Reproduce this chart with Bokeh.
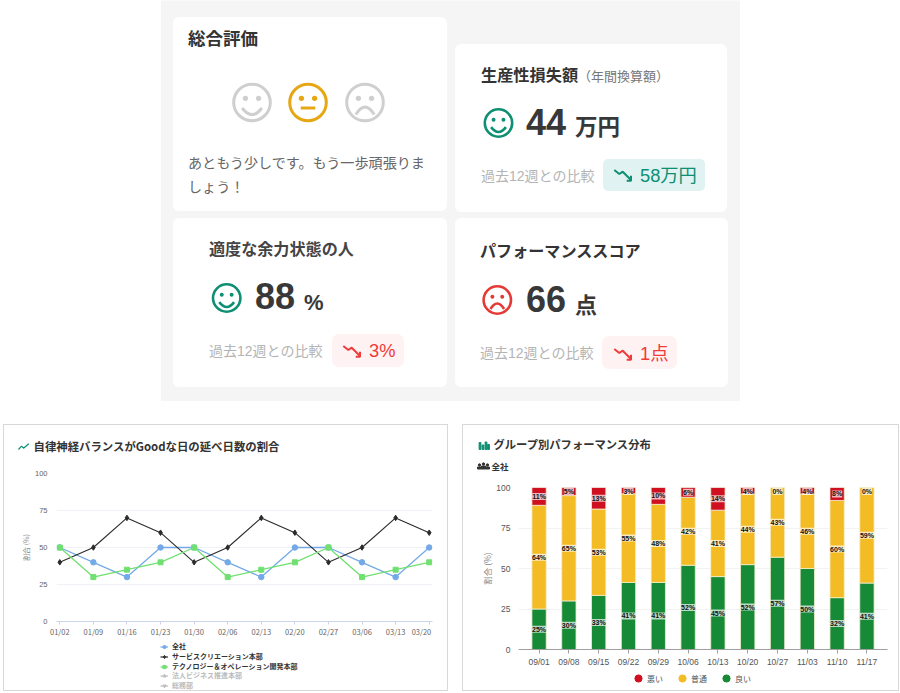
from bokeh.plotting import figure
from bokeh.models import (Range1d, FactorRange, FixedTicker, Legend, LegendItem, ColumnDataSource, Row, Column)
from bokeh.core.properties import value
from bokeh.embed import file_html
from bokeh.resources import INLINE

JP = "Noto Sans CJK JP"
MIX = "Liberation Sans, Noto Sans CJK JP"
NAN = float("nan")

# ---------- data: line chart
line_dates = ["01/02", "01/09", "01/16", "01/23", "01/30", "02/06", "02/13", "02/20", "02/27", "03/06", "03/13", "03/20"]
zensha = [50, 40, 30, 50, 50, 40, 30, 50, 50, 40, 30, 50]
service = [40, 50, 70, 60, 40, 50, 70, 60, 40, 50, 70, 60]
techno = [50, 30, 35, 40, 50, 30, 35, 40, 50, 30, 35, 40]
line_names = ["全社", "サービスクリエーション本部", "テクノロジー＆オペレーション開発本部"]
hidden_names = ["法人ビジネス推進本部", "総務部"]

# ---------- data: stacked bars
bar_dates = ["09/01", "09/08", "09/15", "09/22", "09/29", "10/06", "10/13", "10/20", "10/27", "11/03", "11/10", "11/17"]
good = [25, 30, 33.4, 41.4, 41.4, 52, 45, 52.4, 57, 50, 32, 41]
normal = [64, 65, 53.3, 54.8, 48.2, 42, 41, 43.6, 43, 46, 60, 59]
bad = [11, 5, 13.3, 3.8, 10.4, 6, 14, 4, 0, 4, 8, 0]
good_labels = ["25%", "30%", "33%", "41%", "41%", "52%", "45%", "52%", "57%", "50%", "32%", "41%"]
normal_labels = ["64%", "65%", "53%", "55%", "48%", "42%", "41%", "44%", "43%", "46%", "60%", "59%"]
bad_labels = ["11%", "5%", "13%", "3%", "10%", "6%", "14%", "4%", "0%", "4%", "8%", "0%"]
bar_names = ["悪い", "普通", "良い"]

TEAL, AMBER, RED = "#0E8F73", "#E5A714", "#E53935"
DARK = "#383838"


def canvas(x0, x1, y0, y1, shift=0.0):
    """A figure whose units are the picture's pixels."""
    f = figure(width=x1 - x0, height=y1 - y0, x_range=Range1d(x0 + shift, x1 + shift),
               y_range=Range1d(y1 + shift, y0 + shift), toolbar_location=None,
               output_backend="svg", min_border=0, outline_line_color=None, border_fill_color=None,
               background_fill_color=None, frame_align=False)
    f.axis.visible = False
    f.grid.visible = False
    return f


top = canvas(0, 900, 0, 424, 0.5)


def txt(x, y, s, size, color, font=JP, style="normal", align="left", fig=top):
    fig.text(x=[x], y=[y - 1 if font == JP else y], text=[s], text_font=value(font), text_font_size=f"{size}px",
             text_color=color, text_font_style=style, text_align=align, text_baseline="middle")


def card(l, r, t, b, color="white", radius=6):
    top.quad(left=[l], right=[r], top=[t], bottom=[b], fill_color=color, line_color=None, border_radius=radius)


def face(cx, cy, r, kind, color, lw):
    top.circle(x=[cx], y=[cy], radius=r, fill_color="white", line_color=color, line_width=lw)
    e = r * 0.36
    top.circle(x=[cx - e, cx + e], y=[cy - r * 0.23] * 2, radius=r * 0.145, fill_color=color, line_color=None)
    if kind == "smile":
        w = r * 0.54
        top.quadratic(x0=[cx - w], y0=[cy + r * .3], x1=[cx + w], y1=[cy + r * .3], cx=[cx], cy=[cy + r * 1.02],
                      line_color=color, line_width=lw)
    elif kind == "frown":
        w = r * 0.5
        top.quadratic(x0=[cx - w], y0=[cy + r * .66], x1=[cx + w], y1=[cy + r * .66], cx=[cx], cy=[cy - r * .16],
                      line_color=color, line_width=lw)
    else:
        top.line(x=[cx - r * .4, cx + r * .4], y=[cy + r * .3] * 2, line_color=color, line_width=lw)


def arrow(x, y, color):
    top.line(x=[x, x + 5, x + 8.4, x + 16.7], y=[y, y + 4, y + 1.7, y + 10], line_color=color, line_width=2)
    top.line(x=[x + 16.7, x + 16.7, x + 12.4], y=[y + 5.7, y + 10.7, y + 10.7], line_color=color, line_width=2)


card(161, 740, -5, 401, "#F5F5F5", 0)
card(173, 447, 17, 211)
card(455, 727, 44, 212)
card(173, 447, 218, 387)
card(455, 728, 218, 387)

# overall card
txt(188, 38, "総合評価", 17.5, "#333333", style="bold")
face(252, 102.5, 18.3, "smile", "#CFCFCF", 3)
face(308, 102.5, 18.3, "flat", AMBER, 3)
face(365, 102.5, 18.3, "frown", "#CFCFCF", 3)
txt(188, 163, "あともう少しです。もう一歩頑張りま", 14.1, "#666666")
txt(188, 187, "しょう！", 14.1, "#666666")

# productivity card
txt(481, 75, "生産性損失額", 16.2, "#333333", style="bold")
txt(578, 76, "（年間換算額）", 13, "#777777")
face(498.5, 123, 13.7, "smile", TEAL, 2.6)
txt(526, 122, "44", 36, DARK, MIX, "bold")
txt(575, 126, "万円", 22.5, DARK, style="bold")
txt(481, 175.5, "過去12週との比較", 14, "#B4B4B4", MIX)
card(603, 705, 159, 191, "#E0F2F1", 5)
arrow(614.3, 170, TEAL)
txt(640, 175, "58万円", 18.3, TEAL, MIX)

# capacity card
txt(209, 249, "適度な余力状態の人", 16.1, "#444444", style="bold")
face(226.7, 298, 13.7, "smile", TEAL, 2.6)
txt(255, 296, "88", 36, DARK, MIX, "bold")
txt(304, 302, "%", 22, DARK, MIX, "bold")
txt(209, 351, "過去12週との比較", 14, "#B4B4B4", MIX)
card(332, 404, 334, 367, "#FFF2F2", 7)
arrow(343.3, 346, "#EF3B3B")
txt(369, 350, "3%", 18.3, "#EF3B3B", MIX)

# performance card
txt(480, 251, "パフォーマンススコア", 16.1, "#333333", style="bold")
face(497.3, 300, 13.7, "frown", RED, 2.6)
txt(526, 299, "66", 36, DARK, MIX, "bold")
txt(575, 304, "点", 22, DARK, style="bold")
txt(480, 353, "過去12週との比較", 14, "#B4B4B4", MIX)
card(602, 677, 336, 369, "#FFF2F2", 7)
arrow(614.3, 349, "#EF3B3B")
txt(640, 353, "1点", 18.3, "#EF3B3B", MIX)

BOX = "1px solid #D8D8D8"

# ---------- line chart
head_l = canvas(4, 449, 425, 467)
txt(34, 447, "自律神経バランスがGoodな日の延べ日数の割合", 11.4, "#333333", style="bold", fig=head_l)
head_l.line(x=[19, 22, 24, 29.3], y=[450, 446.7, 448.7, 444.3], line_color=TEAL, line_width=1.2)

left = figure(width=445, height=174, x_range=Range1d(-0.098, 11.098), y_range=Range1d(0, 100), toolbar_location=None,
              output_backend="svg", min_border_left=53, min_border_right=16, min_border_top=7, min_border_bottom=19,
              outline_line_color=None, border_fill_color=None, frame_align=False)
xs = list(range(len(line_dates)))
BLUE, BLACK, LIME = "#74A9E8", "#2B2B2B", "#70E070"
left.line(xs, zensha, line_color=BLUE, line_width=1.3)
left.scatter(xs, zensha, marker="circle", size=5.5, color=BLUE)
left.line(xs, service, line_color=BLACK, line_width=1.1)
left.scatter(xs, service, marker="diamond", size=5.5, color=BLACK)
left.line(xs, techno, line_color=LIME, line_width=1.3)
left.scatter(xs, techno, marker="square", size=5, color=LIME)

# the last tick label of the reference sits left of its tick, so labels are major ticks and marks are minor ones
label_ticks = xs[:-1] + [10.77]
left.xaxis.ticker = FixedTicker(ticks=label_ticks, minor_ticks=xs)
left.xaxis.major_label_overrides = dict(zip(label_ticks, line_dates))
left.xaxis.major_label_text_font_size = "7.5px"
left.xaxis.major_label_text_color = "#666666"
left.xaxis.major_label_text_font = JP
left.xaxis.major_label_standoff = 1
left.xaxis.axis_line_color = "#CCD6EB"
left.xaxis.major_tick_line_color = None
left.xaxis.minor_tick_line_color = "#CCD6EB"
left.xaxis.minor_tick_out = 3
left.xaxis.minor_tick_in = 0
left.xaxis.major_tick_out = 3
left.xaxis.major_tick_in = 0
left.xaxis.major_label_orientation = "horizontal"
left.yaxis.ticker = FixedTicker(ticks=[0, 25, 50, 75, 100])
left.yaxis.axis_line_color = None
left.yaxis.major_tick_line_color = None
left.yaxis.minor_tick_line_color = None
left.yaxis.major_tick_out = 0
left.yaxis.major_tick_in = 0
left.yaxis.major_label_text_font_size = "7.5px"
left.yaxis.major_label_text_color = "#666666"
left.yaxis.major_label_standoff = 9
left.yaxis.axis_label = "割合 (%)"
left.yaxis.axis_label_text_font_size = "7px"
left.yaxis.axis_label_text_color = "#888888"
left.yaxis.axis_label_text_font = JP
left.yaxis.axis_label_text_font_style = "normal"
left.yaxis.axis_label_standoff = 1
left.xgrid.visible = False
left.ygrid.grid_line_color = "#EEF1F5"
left.ygrid.ticker = FixedTicker(ticks=[25, 50, 75, 100])

foot_l = canvas(3, 448, 640, 691)
GREY = "#BDBDBD"
entries = []
for col, mk, sz in [(BLUE, "circle", 5.5), (BLACK, "diamond", 5.5), (LIME, "square", 5), (GREY, "triangle", 5),
                    (GREY, "inverted_triangle", 5)]:
    entries.append([foot_l.line([NAN], [NAN], line_color=col, line_width=1.2),
                    foot_l.scatter([NAN], [NAN], marker=mk, size=sz, color=col)])


def small_legend(names, rends, color, loc):
    foot_l.add_layout(Legend(items=[LegendItem(label=n, renderers=r) for n, r in zip(names, rends)], location=loc,
                             background_fill_alpha=0, border_line_color=None, padding=0, margin=0, spacing=-1,
                             glyph_width=8, glyph_height=9, label_height=9, label_standoff=4,
                             label_text_font_size="7px", label_text_color=color, label_text_font=JP,
                             label_text_font_style="bold"))


small_legend(line_names, entries[:3], "#333333", (157, 20))
small_legend(hidden_names, entries[3:], "#BBBBBB", (157, 1))

col_l = Column(children=[head_l, left, foot_l], spacing=0, margin=(0, 0, 0, 3),
               styles={"outline": BOX, "outline-offset": "-1px"})

# ---------- stacked bar chart
head_r = canvas(463, 900, 425, 481)
txt(494, 445, "グループ別パフォーマンス分布", 11.3, "#333333", style="bold", fig=head_r)
txt(492, 467, "全社", 8.5, "#333333", style="bold", fig=head_r)
head_r.vbar(x=[480.5, 483.5, 486.5, 489], width=1.8, top=[443, 445.5, 442.5, 445], bottom=[450] * 4, color=TEAL)
head_r.circle(x=[480, 484, 488], y=[465.5, 464.5, 465.5], radius=1.2, color="#333333")
head_r.quad(left=[478, 482, 486], right=[482, 486, 490], top=[467.5, 466.5, 467.5], bottom=[469.5] * 3, color="#333333")

right = figure(width=437, height=189, x_range=FactorRange(*bar_dates, range_padding=0.19, range_padding_units="absolute"),
               y_range=Range1d(0, 100), toolbar_location=None, output_backend="svg", min_border_left=56,
               min_border_right=12, min_border_top=7, min_border_bottom=20, outline_line_color=None,
               border_fill_color=None, frame_align=False)
src = ColumnDataSource(dict(x=bar_dates, good=good, normal=normal, bad=bad))
G, Y, R = "#168A36", "#F4BC24", "#CF1020"
right.vbar_stack(["good", "normal", "bad"], x="x", width=0.48, color=[G, Y, R], line_color="#F3EFCF", line_width=0.8,
                 source=src)
lab_x, lab_y, lab_t = [], [], []
for d, g, n, b, tg, tn, tb in zip(bar_dates, good, normal, bad, good_labels, normal_labels, bad_labels):
    lab_x += [d, d, d]
    lab_y += [g / 2, g + n / 2, min(g + n + b / 2, 97.5)]
    lab_t += [tg, tn, tb]
right.text(x=lab_x, y=lab_y, text=lab_t, text_font_size="7px", text_font=value("Liberation Sans"),
           text_font_style="bold", text_color="#111111", text_align="center", text_baseline="middle",
           background_fill_color="white", background_fill_alpha=0.7)
right.xaxis.major_label_text_font_size = "8.5px"
right.xaxis.major_label_text_color = "#555555"
right.xaxis.major_label_text_font = "Liberation Sans"
right.xaxis.major_label_standoff = 3
right.xaxis.axis_line_color = "#A0A0A0"
right.xaxis.major_tick_line_color = "#A0A0A0"
right.xaxis.major_tick_out = 4
right.xaxis.major_tick_in = 0
right.xaxis.minor_tick_line_color = None
right.xaxis.major_label_orientation = "horizontal"
right.yaxis.ticker = FixedTicker(ticks=[0, 25, 50, 75, 100])
right.yaxis.axis_line_color = None
right.yaxis.major_tick_line_color = None
right.yaxis.minor_tick_line_color = None
right.yaxis.major_tick_out = 0
right.yaxis.major_tick_in = 0
right.yaxis.major_label_text_font_size = "8.5px"
right.yaxis.major_label_text_color = "#555555"
right.yaxis.major_label_text_font = "Liberation Sans"
right.yaxis.major_label_standoff = 8
right.yaxis.axis_label = "割合 (%)"
right.yaxis.axis_label_text_font_size = "8.5px"
right.yaxis.axis_label_text_color = "#888888"
right.yaxis.axis_label_text_font = JP
right.yaxis.axis_label_text_font_style = "normal"
right.yaxis.axis_label_standoff = 0
right.xgrid.visible = False
right.ygrid.grid_line_color = "#F2F2F2"
right.ygrid.ticker = FixedTicker(ticks=[25, 50, 75, 100])

foot_r = canvas(462, 899, 669, 691)
dots = [foot_r.scatter([NAN], [NAN], marker="circle", size=7, color=c) for c in (R, Y, G)]
foot_r.add_layout(Legend(items=[LegendItem(label=n, renderers=[d]) for n, d in zip(bar_names, dots)], location=(167, 4),
                         orientation="horizontal", background_fill_alpha=0, border_line_color=None, padding=0, margin=0,
                         spacing=6, glyph_width=18, glyph_height=18, label_height=10, label_standoff=-2,
                         label_text_font_size="8px", label_text_color="#555555", label_text_font=JP))

col_r = Column(children=[head_r, right, foot_r], spacing=0, margin=(0, 0, 0, 14),
               styles={"outline": BOX, "outline-offset": "-1px"})

page = Column(children=[top, Row(children=[col_l, col_r], spacing=0)], spacing=0)
open("out.html", "w").write(file_html(page, INLINE))
